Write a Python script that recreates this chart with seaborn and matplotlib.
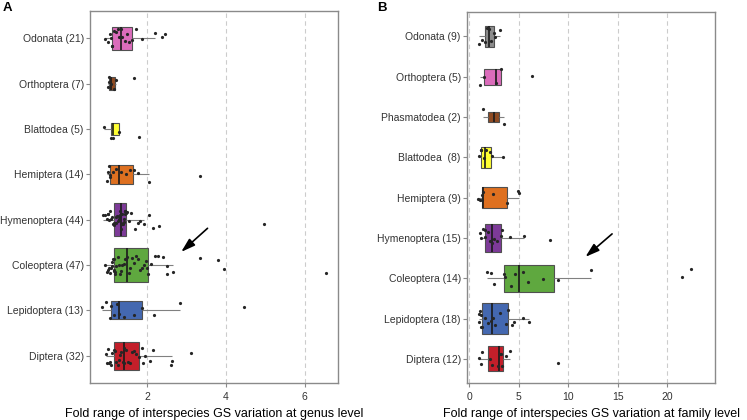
"""
Boxplots of fold range of interspecies genome size variation per insect order,
at genus level (A) and family level (B).
"""

import numpy as np
import pandas as pd
import matplotlib
matplotlib.use("Agg")
import matplotlib.pyplot as plt
import seaborn as sns

# ─── Data: panel A (genus level) ────────────────────────────────────────────

genus_labels = ["Odonata (21)", "Orthoptera (7)", "Blattodea (5)", "Hemiptera (14)",
                "Hymenoptera (44)", "Coleoptera (47)", "Lepidoptera (13)", "Diptera (32)"]
genus_colors = ["#DB6CBB", "#8E4A22", "#FFFF33", "#DE7020",
                "#7D3A98", "#5FA83F", "#4468B0", "#C41F2A"]

genus_odonata = [0.92, 1.00, 1.04, 1.07, 1.09, 1.11, 1.15, 1.20, 1.24, 1.28, 1.32,
                 1.36, 1.42, 1.47, 1.53, 1.60, 1.70, 1.86, 2.19, 2.38, 2.44]
genus_orthoptera = [1.00, 1.02, 1.035, 1.08, 1.15, 1.21, 1.65]
genus_blattodea = [0.90, 1.08, 1.12, 1.27, 1.79]
genus_hemiptera = [0.96, 0.99, 1.02, 1.04, 1.05, 1.12, 1.20, 1.33, 1.45, 1.55,
                   1.65, 1.77, 2.05, 3.34]
genus_hymenoptera = [0.86, 0.92, 0.96, 0.99, 1.01, 1.03, 1.05, 1.07, 1.09, 1.12, 1.15,
                     1.156, 1.17, 1.19, 1.21, 1.23, 1.25, 1.27, 1.28, 1.30, 1.31, 1.32,
                     1.344, 1.35, 1.37, 1.38, 1.40, 1.41, 1.42, 1.43, 1.44, 1.45, 1.46,
                     1.49, 1.52, 1.58, 1.69, 1.77, 1.80, 1.92, 2.03, 2.15, 2.30, 4.96]
genus_coleoptera = [0.92, 0.97, 1.00, 1.03, 1.05, 1.07, 1.09, 1.11, 1.13, 1.14, 1.15, 1.16,
                    1.164, 1.18, 1.21, 1.24, 1.27, 1.30, 1.33, 1.36, 1.40, 1.43, 1.45,
                    1.476,
                    1.52, 1.57, 1.62, 1.67, 1.72, 1.77, 1.82, 1.87, 1.92, 1.96, 2.00,
                    2.018, 2.09, 2.20, 2.27, 2.40, 2.49, 2.51, 2.645, 3.34, 3.80, 3.96, 6.54]
genus_lepidoptera = [0.85, 0.95, 1.04, 1.086, 1.15, 1.22, 1.281, 1.40, 1.66, 1.857,
                     2.16, 2.83, 4.47]
genus_diptera = [0.95, 0.98, 1.00, 1.02, 1.05, 1.08, 1.11, 1.15,
                 1.166, 1.20, 1.24, 1.28, 1.31, 1.34, 1.37, 1.40,
                 1.416, 1.45, 1.50, 1.55, 1.60, 1.65, 1.70, 1.78,
                 1.85, 1.88, 1.94, 2.07, 2.14, 2.59, 2.62, 3.11]

# ─── Data: panel B (family level) ───────────────────────────────────────────

family_labels = ["Odonata (9)", "Orthoptera (5)", "Phasmatodea (2)", "Blattodea  (8)",
                 "Hemiptera (9)", "Hymenoptera (15)", "Coleoptera (14)",
                 "Lepidoptera (18)", "Diptera (12)"]
family_colors = ["#8C8C8C", "#DB6CBB", "#8E4A22", "#FFFF33", "#DE7020",
                 "#7D3A98", "#5FA83F", "#4468B0", "#C41F2A"]

family_odonata = [1.01, 1.30, 1.55, 1.75, 1.98, 2.20, 2.45, 2.60, 3.06]
family_orthoptera = [1.10, 1.51, 2.69, 3.19, 6.29]
family_phasmatodea = [1.38, 3.52]
family_blattodea = [0.94, 1.15, 1.23, 1.50, 1.72, 2.10, 2.30, 3.36]
family_hemiptera = [0.84, 1.10, 1.28, 1.33, 1.38, 2.40, 3.80, 4.95, 5.00]
family_hymenoptera = [1.04, 1.20, 1.40, 1.55, 1.61, 1.90, 2.10, 2.32, 2.50, 2.80,
                      3.15, 3.31, 4.13, 5.55, 8.17]
family_coleoptera = [1.78, 2.18, 2.45, 3.50, 3.62, 4.20, 4.57, 5.37, 5.95, 7.43,
                     8.95, 12.30, 21.50, 22.36]
family_lepidoptera = [0.94, 1.00, 1.11, 1.20, 1.23, 1.28, 1.60, 1.85, 2.20, 2.38,
                      2.60, 3.10, 3.75, 3.91, 4.30, 4.50, 5.41, 6.05]
family_diptera = [1.01, 1.18, 1.28, 2.04, 2.30, 2.85, 3.07, 3.15, 3.30, 3.75, 4.13, 9.00]

genus_groups = [genus_odonata, genus_orthoptera, genus_blattodea, genus_hemiptera,
                genus_hymenoptera, genus_coleoptera, genus_lepidoptera, genus_diptera]
family_groups = [family_odonata, family_orthoptera, family_phasmatodea, family_blattodea,
                 family_hemiptera, family_hymenoptera, family_coleoptera,
                 family_lepidoptera, family_diptera]

plt.rcParams["font.family"] = ["Liberation Sans", "DejaVu Sans"]


def draw_panel(ax, labels, groups, colors, xlim, xticks, xlabel, arrow_tail, arrow_head):
    nmax = max(len(g) for g in groups)
    frames = []
    for label, vals, col in zip(labels, groups, colors):
        sub = pd.DataFrame({"value": vals, "order": label})
        frames.append(sub)
        # box height follows sqrt(n), like varwidth
        width = 0.76 * np.sqrt(len(vals) / nmax)
        sns.boxplot(data=sub, x="value", y="order", order=labels, width=width,
                    color=col, saturation=1, linecolor="#505050", linewidth=0.8,
                    showfliers=False, showcaps=False,
                    whiskerprops={"color": "#808080", "linewidth": 0.8},
                    medianprops={"color": "#1a1a1a", "linewidth": 1.2},
                    ax=ax)
    df = pd.concat(frames, ignore_index=True)
    sns.stripplot(data=df, x="value", y="order", order=labels, color="#262626",
                  size=2.3, jitter=0.22, linewidth=0, zorder=3, ax=ax)

    ax.set_xlim(*xlim)
    ax.set_ylim(len(labels) - 0.4, -0.6)
    ax.set_xticks(xticks)
    ax.set_xticklabels([str(t) for t in xticks])
    ax.set_ylabel("")
    ax.set_xlabel(xlabel, fontsize=9, color="black", labelpad=4)
    ax.set_axisbelow(True)
    ax.xaxis.grid(True, linestyle=(0, (4, 3)), color="#cccccc", linewidth=0.8)
    ax.yaxis.grid(False)
    for sp in ax.spines.values():
        sp.set_color("#8a8a8a")
        sp.set_linewidth(1.0)
    ax.tick_params(axis="both", colors="#8a8a8a", length=3, width=0.8,
                   labelsize=7.5, labelcolor="#333333")
    ax.tick_params(axis="y", pad=1.5)
    ax.annotate("", xy=arrow_head, xytext=arrow_tail,
                arrowprops=dict(arrowstyle="-|>,head_length=0.7,head_width=0.22",
                                color="black", lw=1.2, mutation_scale=12,
                                shrinkA=0, shrinkB=0))


def main():
    np.random.seed(3)
    fig = plt.figure(figsize=(7.47, 4.2), dpi=100)
    ax_a = fig.add_axes([0.1205, 0.0881, 0.332, 0.8857])
    ax_b = fig.add_axes([0.6252, 0.0881, 0.332, 0.8827])

    draw_panel(ax_a, genus_labels, genus_groups, genus_colors,
               xlim=(0.54, 6.85), xticks=[2, 4, 6],
               xlabel="Fold range of interspecies GS variation at genus level",
               arrow_tail=(3.53, 4.19), arrow_head=(2.86, 4.71))
    draw_panel(ax_b, family_labels, family_groups, family_colors,
               xlim=(-0.23, 24.8), xticks=[0, 5, 10, 15, 20],
               xlabel="Fold range of interspecies GS variation at family level",
               arrow_tail=(14.41, 4.90), arrow_head=(11.72, 5.47))

    fig.text(0.003, 0.995, "A", fontsize=9.5, fontweight="bold", va="top", ha="left")
    fig.text(0.505, 0.995, "B", fontsize=9.5, fontweight="bold", va="top", ha="left")

    fig.savefig("out.png", dpi=100)
    plt.close(fig)


if __name__ == "__main__":
    main()
